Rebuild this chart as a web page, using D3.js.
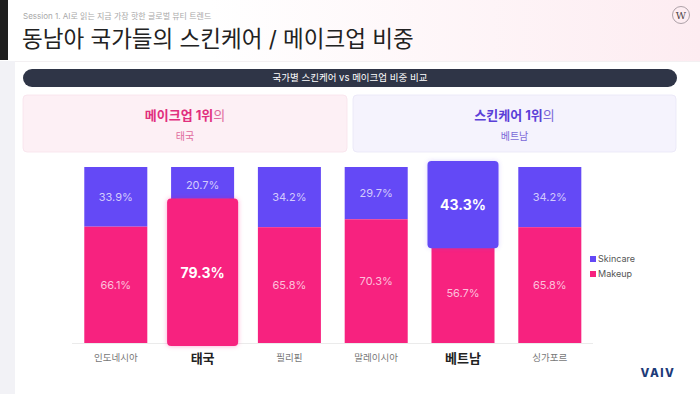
<!DOCTYPE html>
<html>
<head>
<meta charset="utf-8">
<script src="https://cdn.jsdelivr.net/npm/d3@7"></script>
<style>
  body { margin: 0; background: #fff; }
  svg { display: block; font-family: Inter, "Noto Sans CJK KR", "Noto Sans", sans-serif; }
</style>
</head>
<body>
<div id="chart"></div>
<script>
// data
const countries = ["인도네시아", "태국", "필리핀", "말레이시아", "베트남", "싱가포르"];
const skincare = [33.9, 20.7, 34.2, 29.7, 43.3, 34.2];
const makeup = [66.1, 79.3, 65.8, 70.3, 56.7, 65.8];
const highlightMakeup = "태국";
const highlightSkincare = "베트남";
const seriesNames = ["Skincare", "Makeup"];

const W = 700, H = 394;
const colSkin = "#6449f6", colMake = "#f7227f";

const svg = d3.select("#chart").append("svg").attr("width", W).attr("height", H);

const defs = svg.append("defs");
const grad = defs.append("linearGradient").attr("id", "hdr").attr("x1", "0").attr("x2", "1");
grad.append("stop").attr("offset", "0.3").attr("stop-color", "#ffffff");
grad.append("stop").attr("offset", "1").attr("stop-color", "#fdecf1");
const glow = defs.append("filter").attr("id", "glow").attr("x", "-30%").attr("y", "-30%").attr("width", "160%").attr("height", "160%");
glow.append("feDropShadow").attr("dx", 0).attr("dy", 0).attr("stdDeviation", 2.5)
  .attr("flood-color", "#f7227f").attr("flood-opacity", 0.35);
const glow2 = defs.append("filter").attr("id", "glow2").attr("x", "-30%").attr("y", "-30%").attr("width", "160%").attr("height", "160%");
glow2.append("feDropShadow").attr("dx", 0).attr("dy", 0).attr("stdDeviation", 2)
  .attr("flood-color", "#6449f6").attr("flood-opacity", 0.25);

// page frame
svg.append("rect").attr("x", 0).attr("y", 0).attr("width", W).attr("height", 61).attr("fill", "url(#hdr)");
svg.append("rect").attr("x", 0).attr("y", 61).attr("width", 15).attr("height", H - 61).attr("fill", "#f2f2f6");
svg.append("rect").attr("x", 0).attr("y", 0).attr("width", 8).attr("height", 60).attr("fill", "#1f1f1f");
svg.append("line").attr("x1", 15).attr("x2", W).attr("y1", 61.5).attr("y2", 61.5).attr("stroke", "#f3f0f2");

svg.append("text").attr("x", 23).attr("y", 19).attr("font-size", 8).attr("fill", "#a8a8a8")
  .text("Session 1. AI로 읽는 지금 가장 핫한 글로벌 뷰티 트렌드");
svg.append("text").attr("x", 22).attr("y", 47).attr("font-size", 22.5).attr("fill", "#222")
  .text("동남아 국가들의 스킨케어 / 메이크업 비중");

// W badge
const badge = svg.append("g").attr("transform", "translate(681,15)");
badge.append("circle").attr("r", 8.5).attr("fill", "none").attr("stroke", "#8a7f86").attr("stroke-width", 0.7);
badge.append("text").attr("text-anchor", "middle").attr("dy", "0.35em").attr("font-size", 10)
  .attr("font-family", "DejaVu Serif, serif").attr("fill", "#4a3f46").text("W");

// pill header
svg.append("rect").attr("x", 23).attr("y", 69).attr("width", 654).attr("height", 18).attr("rx", 9)
  .attr("fill", "#2f3547");
svg.append("text").attr("x", 350).attr("y", 78).attr("dy", "0.35em").attr("text-anchor", "middle")
  .attr("font-size", 9.5).attr("fill", "#fff").text("국가별 스킨케어 vs 메이크업 비중 비교");

// callout boxes
const callouts = [
  { x: 23, w: 324, fill: "#fdf0f5", stroke: "#f8e2eb", strong: "메이크업 1위", col: "#e12f7e", weak: "#e06a9c", sub: highlightMakeup },
  { x: 353, w: 323, fill: "#f5f3fd", stroke: "#e9e6f6", strong: "스킨케어 1위", col: "#5b40d8", weak: "#7a68d8", sub: highlightSkincare }
];
callouts.forEach(c => {
  svg.append("rect").attr("x", c.x).attr("y", 95).attr("width", c.w).attr("height", 57).attr("rx", 4)
    .attr("fill", c.fill).attr("stroke", c.stroke).attr("stroke-width", 0.8);
  const t = svg.append("text").attr("x", c.x + c.w / 2).attr("y", 120).attr("text-anchor", "middle").attr("font-size", 13);
  t.append("tspan").attr("font-weight", 700).attr("fill", c.col).text(c.strong);
  t.append("tspan").attr("fill", c.weak).text("의");
  svg.append("text").attr("x", c.x + c.w / 2).attr("y", 140).attr("text-anchor", "middle")
    .attr("font-size", 10).attr("fill", c.weak).text(c.sub);
});

// chart
const x = d3.scaleBand().domain(countries).range([73, 592.6]).paddingInner(0.274).paddingOuter(0.13);
const y = d3.scaleLinear().domain([0, 100]).range([343, 167]);

const rows = countries.map((c, i) => ({ c, s: skincare[i], m: makeup[i] }));

svg.append("line").attr("x1", 72).attr("x2", 593).attr("y1", 343.5).attr("y2", 343.5)
  .attr("stroke", "#ebebeb");

const g = svg.append("g");
const bw = x.bandwidth();

rows.forEach(d => {
  const x0 = x(d.c);
  const mTop = y(d.m);
  const hiM = d.c === highlightMakeup, hiS = d.c === highlightSkincare;
  // skincare on top
  if (!hiS) {
    g.append("rect").attr("x", x0).attr("y", y(100)).attr("width", bw).attr("height", mTop - y(100)).attr("fill", colSkin);
  }
  if (!hiM) {
    g.append("rect").attr("x", x0).attr("y", mTop).attr("width", bw).attr("height", y(0) - mTop).attr("fill", colMake);
  }
  if (hiM) {
    g.append("rect").attr("x", x0 - 4).attr("y", mTop - 5).attr("width", bw + 8).attr("height", y(0) - mTop + 8)
      .attr("rx", 4).attr("fill", colMake).attr("filter", "url(#glow)");
  }
  if (hiS) {
    g.append("rect").attr("x", x0 - 4).attr("y", y(100) - 6).attr("width", bw + 8).attr("height", mTop - y(100) + 11)
      .attr("rx", 4).attr("fill", colSkin).attr("filter", "url(#glow2)");
  }
  const cx = x0 + bw / 2;
  g.append("text").attr("x", cx).attr("y", (y(100) + mTop) / 2).attr("dy", "0.35em").attr("text-anchor", "middle")
    .attr("font-size", hiS ? 14 : 11).attr("font-weight", hiS ? 700 : 400)
    .attr("fill", "#fff").attr("fill-opacity", hiS ? 1 : 0.72).text(d.s.toFixed(1) + "%");
  g.append("text").attr("x", cx).attr("y", (mTop + y(0)) / 2).attr("dy", "0.35em").attr("text-anchor", "middle")
    .attr("font-size", hiM ? 14 : 11).attr("font-weight", hiM ? 700 : 400)
    .attr("fill", "#fff").attr("fill-opacity", hiM ? 1 : 0.72).text(d.m.toFixed(1) + "%");
});

// category axis labels
const hi = [highlightMakeup, highlightSkincare];
svg.append("g").selectAll("text").data(countries).join("text")
  .attr("x", d => x(d) + bw / 2).attr("y", 358).attr("dy", "0.35em").attr("text-anchor", "middle")
  .attr("font-size", d => hi.includes(d) ? 13 : 9.5)
  .attr("font-weight", d => hi.includes(d) ? 700 : 400)
  .attr("fill", d => hi.includes(d) ? "#222" : "#777")
  .text(d => d);

// legend
const leg = svg.append("g").attr("transform", "translate(590,259)");
seriesNames.forEach((s, i) => {
  leg.append("rect").attr("x", 0).attr("y", i * 15 - 3).attr("width", 6).attr("height", 6)
    .attr("fill", i === 0 ? colSkin : colMake);
  leg.append("text").attr("x", 8).attr("y", i * 15).attr("dy", "0.35em").attr("font-size", 9)
    .attr("fill", "#555").text(s);
});

// VAIV logo
svg.append("text").attr("x", 658).attr("y", 373).attr("dy", "0.35em").attr("text-anchor", "middle")
  .attr("font-size", 11.5).attr("font-weight", 800).attr("letter-spacing", 1.5)
  .attr("fill", "#1c3a78").text("VAIV");
</script>
</body>
</html>
